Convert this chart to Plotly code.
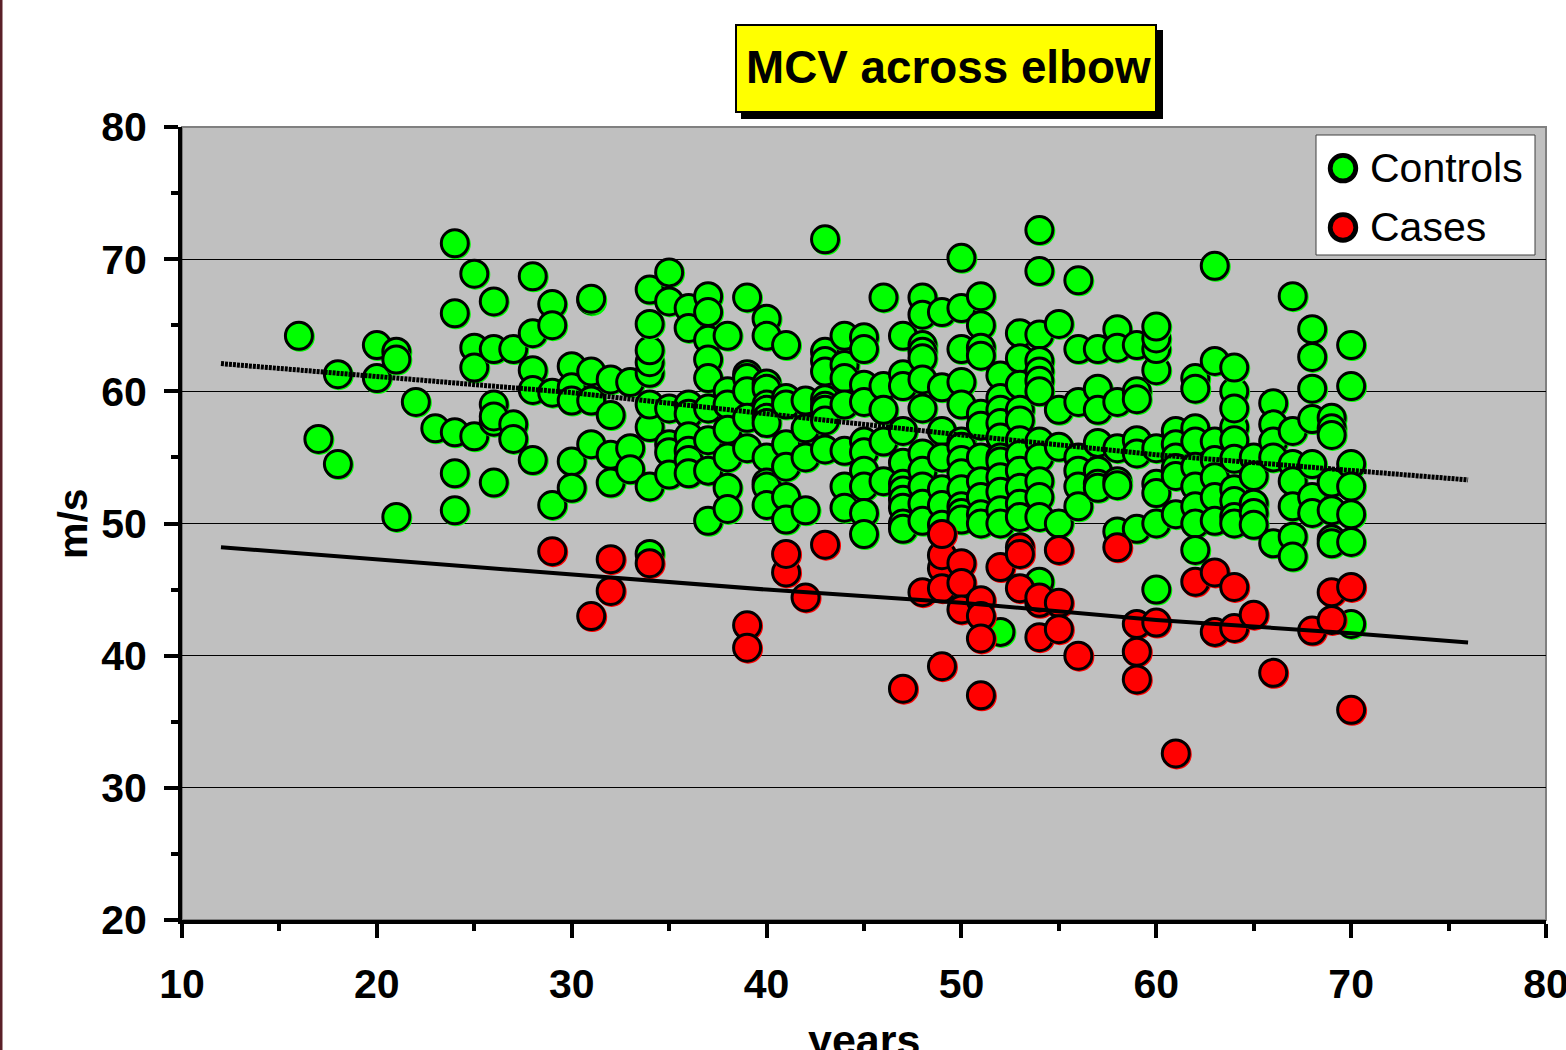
import plotly.graph_objects as go

control_groups = {
    16: [64.2], 17: [56.4], 18: [61.3, 54.5], 20: [63.5, 61.0], 21: [63.0, 62.4, 50.5],
    22: [59.2], 23: [57.2], 24: [71.2, 65.9, 56.9, 53.8, 51.0], 25: [68.9, 63.3, 61.8, 56.6],
    26: [66.8, 63.2, 59.0, 57.7, 58.1, 53.1], 27: [63.2, 57.5, 56.4],
    28: [68.7, 64.4, 61.6, 60.1, 54.8], 29: [66.6, 65.0, 59.9, 51.4],
    30: [61.9, 60.3, 59.3, 54.7, 52.7], 31: [66.9, 67.0, 61.5, 59.3, 56.0],
    32: [60.9, 58.2, 55.2, 53.1], 33: [60.7, 55.7, 54.1],
    34: [47.7, 52.8, 57.3, 59.0, 61.4, 62.2, 63.1, 65.1, 67.7],
    35: [69.0, 66.8, 58.7, 56.0, 55.4, 53.7], 36: [66.3, 64.8, 59.0, 58.3, 56.6, 55.5, 54.8, 53.8],
    37: [67.2, 66.0, 63.9, 62.4, 61.0, 58.7, 56.3, 54.0, 50.2],
    38: [64.2, 60.0, 59.0, 57.1, 55.0, 52.7, 51.1], 39: [67.1, 61.3, 61.0, 60.0, 58.0, 55.7],
    40: [65.5, 64.2, 60.6, 60.2, 59.0, 58.6, 58.0, 57.6, 55.0, 53.1, 52.8, 51.4],
    41: [63.5, 59.5, 59.0, 56.0, 54.3, 52.0, 50.3], 42: [59.3, 57.2, 55.0, 51.0],
    43: [71.5, 63.0, 62.3, 61.5, 59.4, 58.9, 58.6, 57.8, 55.6],
    44: [64.2, 62.0, 61.0, 59.0, 55.5, 52.8, 51.2],
    45: [64.1, 63.2, 60.5, 59.2, 56.2, 55.4, 54.0, 52.8, 50.8, 49.2],
    46: [67.1, 60.4, 58.6, 56.2, 53.2],
    47: [64.2, 61.3, 60.4, 57.0, 54.6, 53.0, 52.5, 51.8, 51.2, 50.0, 49.6],
    48: [67.1, 65.8, 63.5, 63.0, 62.5, 60.9, 58.7, 55.3, 54.0, 52.8, 51.5, 50.2],
    49: [66.0, 60.3, 57.0, 55.0, 52.6, 51.4, 49.9],
    50: [70.1, 66.3, 63.2, 60.7, 59.0, 56.2, 55.8, 54.8, 53.8, 52.6, 51.3, 50.8, 50.3],
    51: [67.2, 65.0, 63.3, 62.7, 58.3, 57.4, 55.0, 53.2, 52.0, 50.7, 50.0],
    52: [61.2, 59.5, 58.6, 57.6, 56.5, 55.0, 54.7, 53.5, 52.4, 51.0, 50.0, 41.8],
    53: [64.4, 62.5, 60.5, 58.6, 57.8, 56.3, 55.2, 54.0, 52.7, 51.5, 50.5],
    54: [72.2, 69.1, 64.3, 62.3, 61.5, 60.8, 60.0, 56.2, 55.0, 53.2, 52.0, 50.5, 45.6],
    55: [65.1, 58.6, 55.8, 50.0], 56: [68.4, 63.2, 59.2, 55.0, 54.0, 52.8, 51.3],
    57: [63.2, 60.2, 58.6, 56.1, 54.0, 53.0, 52.7], 58: [64.7, 63.3, 59.2, 55.7, 53.2, 52.9, 49.4],
    59: [63.5, 60.0, 59.4, 56.3, 55.3, 49.6],
    60: [61.6, 63.2, 64.0, 64.9, 55.7, 53.0, 52.3, 50.0, 45.0], 61: [57.0, 56.0, 55.0, 54.2, 53.6, 50.7],
    62: [61.0, 60.2, 57.2, 56.2, 54.3, 52.8, 51.3, 50.0, 48.0],
    63: [69.5, 62.3, 56.2, 54.8, 53.5, 52.0, 50.2],
    64: [60.0, 61.8, 57.3, 58.7, 56.3, 54.9, 52.6, 51.7, 50.5, 50.0], 65: [55.0, 53.6, 51.5, 50.8, 49.9],
    66: [59.1, 57.5, 56.2, 55.0, 48.5], 67: [67.2, 57.0, 54.5, 53.2, 51.3, 49.0, 47.5],
    68: [64.7, 62.6, 60.2, 57.9, 54.5, 52.0, 50.8], 69: [58.0, 57.2, 56.7, 53.1, 51.0, 48.8, 48.5],
    70: [63.5, 60.4, 54.5, 52.8, 50.7, 48.6, 42.4],
}
case_groups = {
    29: [47.9], 31: [43.0], 32: [47.3, 44.9], 34: [47.0], 39: [42.3, 40.6], 41: [46.3, 47.7],
    42: [44.4], 43: [48.4], 47: [37.5], 48: [44.8], 49: [46.6, 47.6, 49.2, 45.1, 39.2],
    50: [47.0, 45.5, 43.5], 51: [44.2, 43.0, 41.3, 37.0], 52: [46.7], 53: [48.2, 47.7, 45.1],
    54: [44.0, 44.4, 41.4], 55: [48.0, 44.0, 42.0], 56: [40.0], 58: [48.2], 59: [42.4, 40.3, 38.2],
    60: [42.5], 61: [32.6], 62: [45.6], 63: [46.3, 41.8], 64: [45.2, 42.1], 65: [43.1], 66: [38.7],
    68: [41.9], 69: [44.8, 42.7], 70: [45.2, 35.9],
}
trend_x = [12, 20, 30, 40, 50, 60, 70, 76]
upper_limit = [62.1, 61.1, 59.9, 58.3, 56.7, 55.2, 54.0, 53.3]
lower_limit = [48.2, 47.3, 46.1, 45.0, 44.0, 42.7, 41.7, 41.0]

x_ticks = [10, 20, 30, 40, 50, 60, 70, 80]
y_ticks = [20, 30, 40, 50, 60, 70, 80]

W, H = 1590, 1050
L, R, T, B = 182, 1546, 127, 920
px = lambda v: (v - L) / (R - L)
py = lambda v: (B - v) / (B - T)

def flat(groups):
    xs, ys = [], []
    for age, vals in groups.items():
        for v in vals:
            xs.append(age)
            ys.append(v)
    return xs, ys

cx, cy = flat(control_groups)
rx, ry = flat(case_groups)

marker = lambda c: dict(color=c, size=27, line=dict(color="black", width=3))
fig = go.Figure()
fig.add_trace(go.Scatter(x=cx, y=cy, mode="markers", name="Controls", legendgroup="a",
                         marker=marker("#00FF00")))
fig.add_trace(go.Scatter(x=rx, y=ry, mode="markers", name="Cases", legendgroup="b",
                         marker=marker("#FF0000")))
fig.add_trace(go.Scatter(x=trend_x, y=upper_limit, mode="lines", showlegend=False,
                         line=dict(color="black", width=5, dash="3px,1px")))
fig.add_trace(go.Scatter(x=trend_x, y=lower_limit, mode="lines", showlegend=False,
                         line=dict(color="black", width=4)))

tick_font = dict(family="Liberation Sans", size=41, color="black", weight="bold")
bold = lambda s: dict(family="Liberation Sans", size=s, color="black", weight="bold")

fig.update_layout(
    width=W, height=H, autosize=False,
    margin=dict(l=L, r=W - R, t=T, b=H - B, pad=0),
    paper_bgcolor="white", plot_bgcolor="#C0C0C0",
    legend=dict(x=px(1316), y=py(133), xanchor="left", yanchor="top", bgcolor="rgba(0,0,0,0)",
                borderwidth=0, itemwidth=44, tracegroupgap=3,
                font=dict(family="Liberation Sans", size=41, color="black")),
    xaxis=dict(range=[10, 80], tickmode="array", tickvals=x_ticks, ticks="outside", ticklen=14,
               tickwidth=4, tickcolor="black", showgrid=False, zeroline=False, showline=True,
               linecolor="black", linewidth=4, tickfont=tick_font, ticklabelstandoff=11,
               minor=dict(dtick=5, tick0=10, ticks="outside", ticklen=7, tickwidth=4,
                          tickcolor="black", showgrid=False)),
    yaxis=dict(range=[20, 80], tickmode="array", tickvals=y_ticks, ticks="outside", ticklen=14,
               tickwidth=4, tickcolor="black", showgrid=True, gridcolor="black", gridwidth=1,
               zeroline=False, showline=True, linecolor="black", linewidth=4, tickfont=tick_font,
               ticklabelstandoff=9,
               minor=dict(dtick=5, tick0=20, ticks="outside", ticklen=7, tickwidth=4,
                          tickcolor="black", showgrid=False)),
    shapes=[
        dict(type="rect", xref="paper", yref="paper", x0=px(L), x1=px(R), y0=py(B), y1=py(T),
             line=dict(color="#808080", width=2), layer="below"),
        dict(type="rect", xref="paper", yref="paper", x0=px(741), x1=px(1163), y0=py(119), y1=py(30),
             fillcolor="black", line=dict(width=0)),
        dict(type="rect", xref="paper", yref="paper", x0=px(736), x1=px(1156), y0=py(112), y1=py(25),
             fillcolor="#FFFF00", line=dict(color="black", width=2)),
        dict(type="rect", xref="paper", yref="paper", x0=px(1316), x1=px(1535), y0=py(255), y1=py(135),
             fillcolor="white", line=dict(color="#404040", width=1)),
        dict(type="rect", xref="paper", yref="paper", x0=px(0), x1=px(2.5), y0=py(1050), y1=py(0),
             fillcolor="#5A2028", line=dict(width=0)),
    ],
    annotations=[
        dict(text="MCV across elbow", xref="paper", yref="paper", x=px(949), y=py(68),
             xanchor="center", yanchor="middle", showarrow=False, font=bold(45.8)),
        dict(text="years", xref="paper", yref="paper", x=px(864), y=py(1040),
             xanchor="center", yanchor="middle", showarrow=False, font=bold(43)),
        dict(text="m/s", xref="paper", yref="paper", x=px(73), y=py(524), textangle=-90,
             xanchor="center", yanchor="middle", showarrow=False, font=bold(41)),
    ],
)
post = """
document.documentElement.style.overflow = 'hidden';
document.body.style.margin = '0';
document.body.style.overflow = 'hidden';
function restyleMarks() {
  document.querySelectorAll('.legendpoints path.scatterpts').forEach(function (p) {
    if (p.dataset.grown) return;
    p.dataset.grown = '1';
    p.setAttribute('transform', (p.getAttribute('transform') || '') + ' translate(0,2) scale(1.6)');
  });
  document.querySelectorAll('.scatterlayer .points path.point').forEach(function (p) {
    if (p.dataset.fringe) return;
    p.dataset.fringe = '1';
    p.style.filter = 'drop-shadow(1px 1px 0 ' + p.style.fill + ')';
  });
}
restyleMarks();
setTimeout(restyleMarks, 50);
"""
fig.write_html("out.html", post_script=post, config={"displayModeBar": False})
